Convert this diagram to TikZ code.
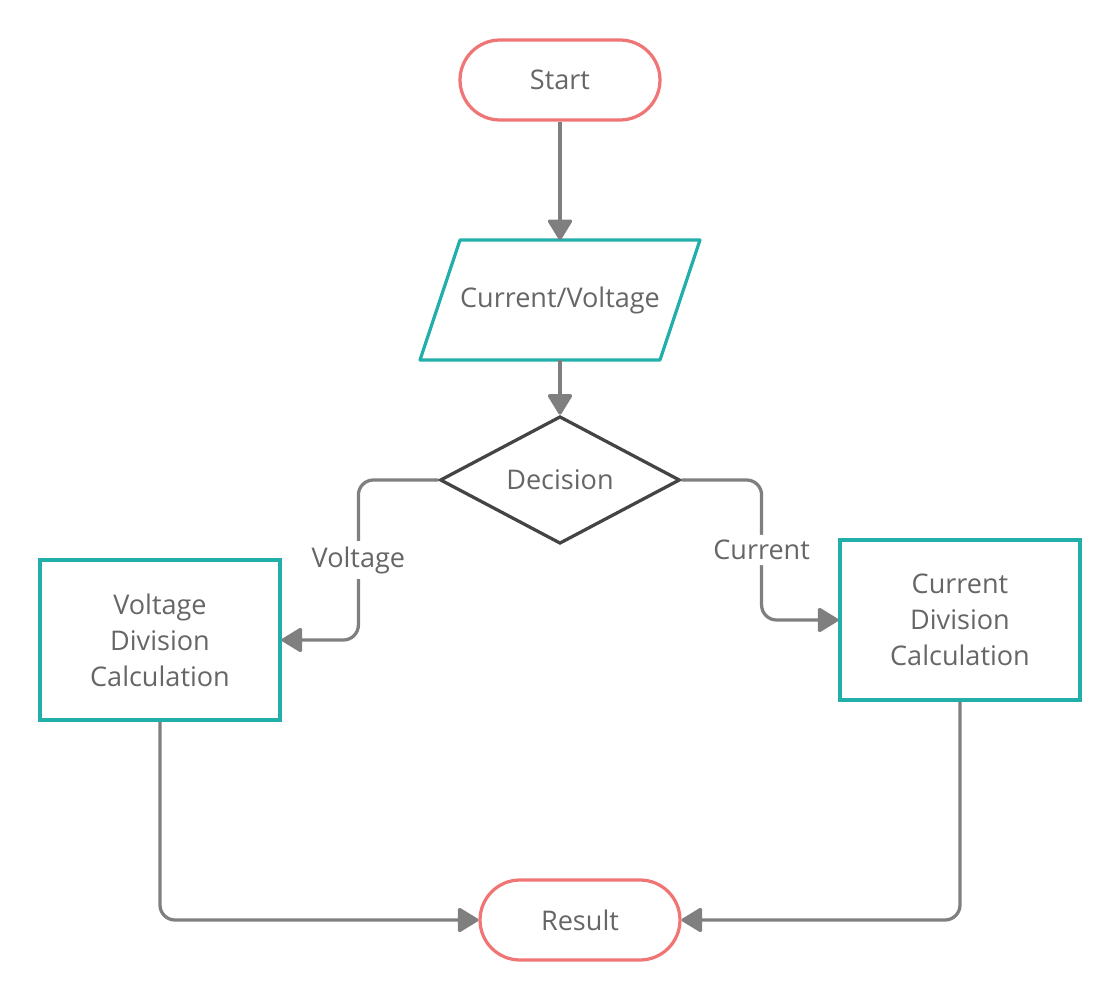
\documentclass[tikz,border=0pt]{standalone}
\usepackage{fontspec}
\setmainfont{Open Sans}
\usetikzlibrary{shapes.geometric,arrows.meta,calc}
\definecolor{termred}{HTML}{F07575}
\definecolor{ioteal}{HTML}{22AFAA}
\definecolor{linkgray}{HTML}{7F7F7F}
\definecolor{decgray}{HTML}{444444}
\definecolor{txtgray}{HTML}{666666}
\begin{document}
\begin{tikzpicture}[
            x = 0.02cm, y = -0.02cm,
            every node/.style={text=txtgray, font=\fontsize{15.4}{20.5}\selectfont, align=center, line width=0.065cm},
            term/.style={draw=termred, rectangle, rounded corners=0.8cm, minimum width=4cm, minimum height=1.6cm},
            iobox/.style={rectangle, minimum width=5.6cm, minimum height=2.4cm, outer sep=0pt},
            ioline/.style={draw=ioteal, line width=0.065cm, line join=round},
            decide/.style={draw=decgray, diamond, minimum width=4.8cm, minimum height=2.4cm, inner sep=0pt},
            calc/.style={draw=ioteal, rectangle, minimum width=4.8cm, minimum height=3.2cm},
            link/.style={draw=linkgray, line width=0.065cm, rounded corners=0.3cm, -{Triangle[length=0.44cm, width=0.52cm, round]}},
            lbl/.style={fill=white, inner sep=3pt, line width=0pt},
            ]
        \useasboundingbox (0,0) rectangle (1120,1000);

        \node[term] (start) at (560,80) {Start};
        \node[iobox] (input) at (560,300) {Current/Voltage};
        \draw[ioline] ($(input.north west)+(40,0)$) -- (input.north east) -- ($(input.south east)-(40,0)$) -- (input.south west) -- cycle;
        \node[decide] (dec) at (560,480) {Decision};
        \node[calc] (vcalc) at (160,640) {Voltage\\Division\\Calculation};
        \node[calc] (ccalc) at (960,620) {Current\\Division\\Calculation};
        \node[term] (res) at (580,920) {Result};

        \draw[link] (start) -- (input);
        \draw[link] (input) -- (dec);
        \draw[link] (dec.west) -- ++(-80,0) |- node[lbl, pos=0.25] {Voltage} (vcalc.east);
        \draw[link] (dec.east) -- ++(80,0) |- node[lbl, pos=0.25] {Current} (ccalc.west);
        \draw[link] (vcalc.south) |- (res.west);
        \draw[link] (ccalc.south) |- (res.east);

    \end{tikzpicture}
\end{document}
